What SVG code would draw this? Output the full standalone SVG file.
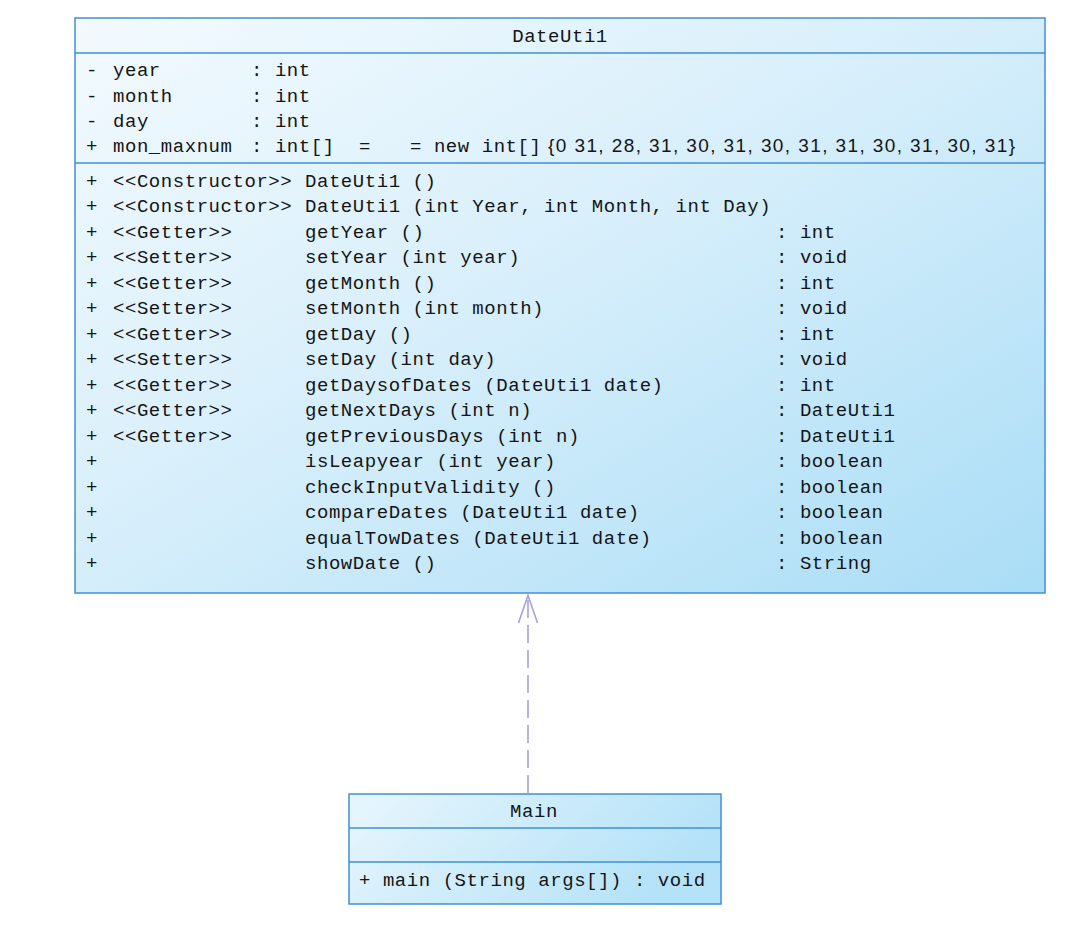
<svg xmlns="http://www.w3.org/2000/svg" width="1078" height="948" viewBox="0 0 1078 948">
<defs>
<linearGradient id="g1" x1="0" y1="0" x2="1" y2="1">
<stop offset="0" stop-color="#f3fafe"/>
<stop offset="0.45" stop-color="#d8effb"/>
<stop offset="1" stop-color="#a9ddf6"/>
</linearGradient>
<linearGradient id="g2" x1="0" y1="0" x2="1" y2="0.3">
<stop offset="0" stop-color="#e8f6fd"/>
<stop offset="1" stop-color="#b4e2f8"/>
</linearGradient>
<style>
.box{stroke:#3f90d4;stroke-width:1.5}
.div{stroke:#3f90d4;stroke-width:1.5}
text{font-family:"Liberation Mono","DejaVu Sans Mono",monospace;font-size:19px;letter-spacing:0.55px;fill:#151515}
.num{font-family:"Liberation Sans",Arial,sans-serif;font-size:19px;letter-spacing:0}
.ttl{text-anchor:middle}
.conn{stroke:#a9a1de;stroke-width:1.6;fill:none}
</style>
</defs>
<rect width="1078" height="948" fill="#ffffff"/>
<g id="DateUtil">
<rect class="box" x="75" y="18" width="970" height="575" fill="url(#g1)"/>
<line class="div" x1="75" y1="53" x2="1045" y2="53"/>
<line class="div" x1="75" y1="163" x2="1045" y2="163"/>
<text class="ttl" x="560" y="42">DateUti1</text>
<text x="86" y="76">-</text><text x="113" y="76">year</text><text x="251" y="76">: int</text>
<text x="86" y="102">-</text><text x="113" y="102">month</text><text x="251" y="102">: int</text>
<text x="86" y="127">-</text><text x="113" y="127">day</text><text x="251" y="127">: int</text>
<text x="86" y="152">+</text><text x="113" y="152">mon_maxnum</text><text x="251" y="152">: int[]</text><text x="359" y="152">=</text><text x="410" y="152">= new int[]</text>
<text class="num" x="548" y="152" textLength="467" lengthAdjust="spacing">{0 31, 28, 31, 30, 31, 30, 31, 31, 30, 31, 30, 31}</text>
<text x="86" y="187">+</text><text x="113" y="187">&lt;&lt;Constructor&gt;&gt;</text><text x="305" y="187">DateUti1 ()</text>
<text x="86" y="212">+</text><text x="113" y="212">&lt;&lt;Constructor&gt;&gt;</text><text x="305" y="212">DateUti1 (int Year, int Month, int Day)</text>
<text x="86" y="238">+</text><text x="113" y="238">&lt;&lt;Getter&gt;&gt;</text><text x="305" y="238">getYear ()</text><text x="776" y="238">: int</text>
<text x="86" y="263">+</text><text x="113" y="263">&lt;&lt;Setter&gt;&gt;</text><text x="305" y="263">setYear (int year)</text><text x="776" y="263">: void</text>
<text x="86" y="289">+</text><text x="113" y="289">&lt;&lt;Getter&gt;&gt;</text><text x="305" y="289">getMonth ()</text><text x="776" y="289">: int</text>
<text x="86" y="314">+</text><text x="113" y="314">&lt;&lt;Setter&gt;&gt;</text><text x="305" y="314">setMonth (int month)</text><text x="776" y="314">: void</text>
<text x="86" y="340">+</text><text x="113" y="340">&lt;&lt;Getter&gt;&gt;</text><text x="305" y="340">getDay ()</text><text x="776" y="340">: int</text>
<text x="86" y="365">+</text><text x="113" y="365">&lt;&lt;Setter&gt;&gt;</text><text x="305" y="365">setDay (int day)</text><text x="776" y="365">: void</text>
<text x="86" y="391">+</text><text x="113" y="391">&lt;&lt;Getter&gt;&gt;</text><text x="305" y="391">getDaysofDates (DateUti1 date)</text><text x="776" y="391">: int</text>
<text x="86" y="416">+</text><text x="113" y="416">&lt;&lt;Getter&gt;&gt;</text><text x="305" y="416">getNextDays (int n)</text><text x="776" y="416">: DateUti1</text>
<text x="86" y="442">+</text><text x="113" y="442">&lt;&lt;Getter&gt;&gt;</text><text x="305" y="442">getPreviousDays (int n)</text><text x="776" y="442">: DateUti1</text>
<text x="86" y="467">+</text><text x="305" y="467">isLeapyear (int year)</text><text x="776" y="467">: boolean</text>
<text x="86" y="493">+</text><text x="305" y="493">checkInputValidity ()</text><text x="776" y="493">: boolean</text>
<text x="86" y="518">+</text><text x="305" y="518">compareDates (DateUti1 date)</text><text x="776" y="518">: boolean</text>
<text x="86" y="544">+</text><text x="305" y="544">equalTowDates (DateUti1 date)</text><text x="776" y="544">: boolean</text>
<text x="86" y="569">+</text><text x="305" y="569">showDate ()</text><text x="776" y="569">: String</text>
</g>
<g id="Main">
<rect class="box" x="349" y="794" width="372" height="110" fill="url(#g2)"/>
<line class="div" x1="349" y1="828" x2="721" y2="828"/>
<line class="div" x1="349" y1="862" x2="721" y2="862"/>
<text class="ttl" x="534" y="817">Main</text>
<text x="359" y="886">+ main (String args[]) : void</text>
</g>
<g id="connectors">
<line class="conn" x1="528" y1="793" x2="528" y2="597" stroke-dasharray="18 7"/>
<polyline class="conn" points="518.5,623 528,595.5 537.5,623"/>
</g>
</svg>
